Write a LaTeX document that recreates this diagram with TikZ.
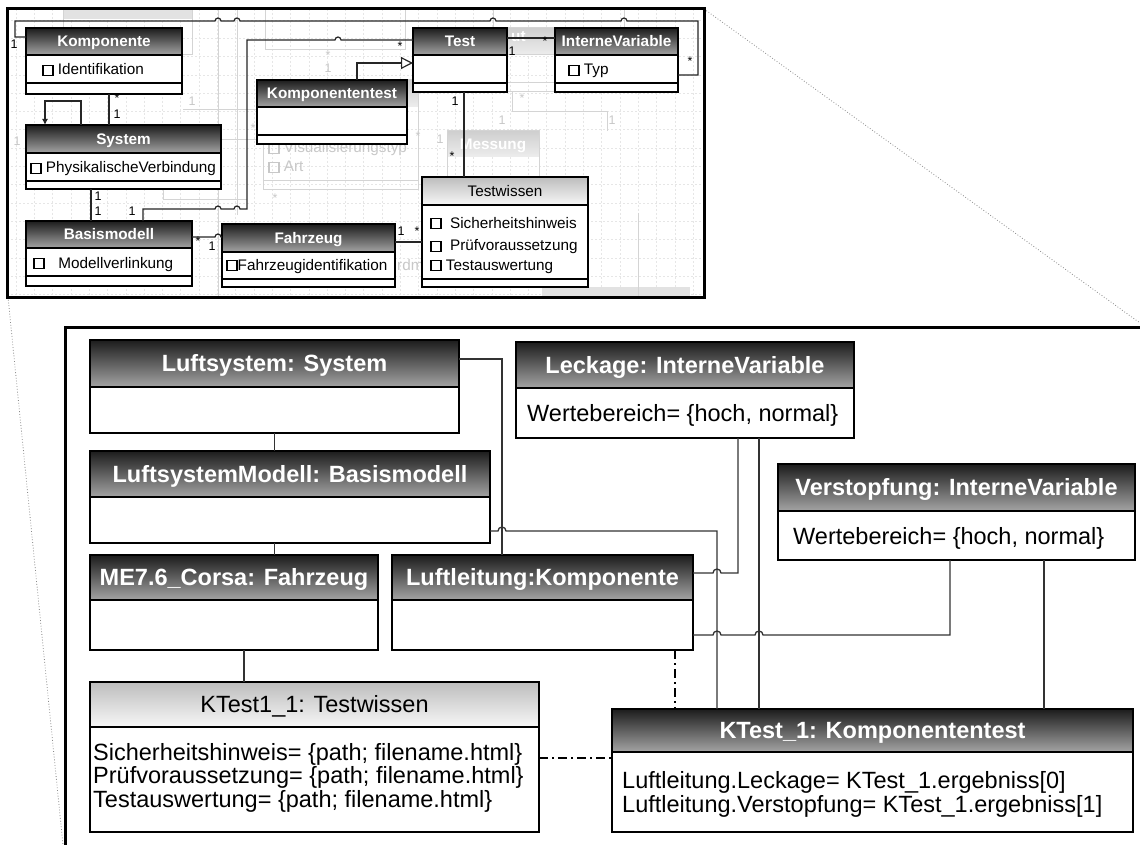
\documentclass[tikz,border=0pt]{standalone}
\usepackage{fontspec}
\setmainfont{Liberation Sans}
\usetikzlibrary{arrows.meta,calc}

\definecolor{hdtop}{HTML}{1C1C1C}
\definecolor{hdbot}{HTML}{A4A4A4}
\definecolor{lttop}{HTML}{BDBDBD}
\definecolor{ltbot}{HTML}{F7F7F7}
\definecolor{wirec}{HTML}{333333}
\definecolor{faintc}{HTML}{D4D4D4}
\definecolor{fainttxt}{HTML}{C8C8C8}
\definecolor{faintfill}{HTML}{E2E2E2}
\definecolor{fadetop}{HTML}{CFCFCF}
\definecolor{fadebot}{HTML}{EDEDED}
\definecolor{gridc}{HTML}{E6E6E6}
\definecolor{calloutc}{HTML}{8A8A8A}

% small attribute marker used in class compartments
\newcommand\attrbox{\raisebox{0.02em}{\setlength{\fboxsep}{0pt}\setlength{\fboxrule}{0.1em}\fbox{\rule{0pt}{0.55em}\rule{0.55em}{0pt}}}}

% class/object box: name, x, y, width, header height, total height, header shading, title style, title
\newcommand\umlobj[9]{%
  \node[objbody, minimum width=#4pt, minimum height=#6pt, anchor=north west] (#1) at (#2,#3) {};
  \shade[#7] (#1.north west) rectangle ([yshift=-#5pt]#1.north east);
  \draw[edge] (#1.north west) rectangle (#1.south east);
  \draw[edge] ([yshift=-#5pt]#1.north west) -- ([yshift=-#5pt]#1.north east);
  \node[#8] (#1-title) at ($(#1.north)+(0,#5/2)$) {#9};
}
% operations compartment separator
\newcommand\oprow[2]{\draw[edge] ([yshift=-#2pt]#1.north west) -- ([yshift=-#2pt]#1.north east);}

\tikzset{
  objbody/.style={rectangle, fill=white, draw=none, inner sep=0pt, outer sep=0pt},
  darkhead/.style={top color=hdtop, bottom color=hdbot},
  lighthead/.style={top color=lttop, bottom color=ltbot},
  fadehead/.style={top color=fadetop, bottom color=fadebot},
  ihead/.style={text=white, font=\fontsize{15.3}{17}\selectfont\bfseries, inner sep=0pt, anchor=base, yshift=-5.5pt},
  iheadl/.style={text=black, font=\fontsize{15.3}{17}\selectfont, inner sep=0pt, anchor=base, yshift=-5.5pt},
  iattr/.style={font=\fontsize{15.3}{17}\selectfont, inner sep=0pt, anchor=base west},
  mult/.style={font=\fontsize{12.5}{14}\selectfont, inner sep=0pt, anchor=mid},
  bhead/.style={text=white, font=\fontsize{23.5}{26}\selectfont\bfseries, inner sep=0pt, anchor=base, yshift=-8.4pt},
  bheadl/.style={text=black, font=\fontsize{23.5}{26}\selectfont, inner sep=0pt, anchor=base, yshift=-8.4pt},
  battr/.style={font=\fontsize{23.5}{26}\selectfont, inner sep=0pt, anchor=base west},
  iwire/.style={draw=black!85, line width=1.2pt},
  wire/.style={draw=wirec, line width=1.3pt},
  dashdot/.style={draw=black, line width=1.2pt, dash pattern=on 9pt off 4pt on 2pt off 4pt},
  faintline/.style={draw=faintc, line width=1pt},
  fainttext/.style={text=fainttxt, font=\fontsize{15.3}{17}\selectfont, inner sep=0pt, anchor=base west},
  faintmult/.style={text=fainttxt, font=\fontsize{12.5}{14}\selectfont, inner sep=0pt, anchor=mid},
  fadetitle/.style={text=white, font=\fontsize{15.3}{17}\selectfont\bfseries, inner sep=0pt, anchor=base},
  gridline/.style={draw=gridc, line width=0.6pt, dash pattern=on 2pt off 2pt},
  callout/.style={draw=calloutc, line width=0.8pt, dotted},
  heavyframe/.style={draw=black, line width=3pt}
}

\begin{document}
\begin{tikzpicture}[x=1pt, y=-1pt]
\useasboundingbox (0,0) rectangle (1140,845);
\clip (0,0) rectangle (1140,845);

% ---------- zoom callout lines ----------
\coordinate (insetNE) at (704,9);
\coordinate (insetSW) at (8,297);
\coordinate (panelNE) at (1140,323);
\coordinate (panelSW) at (63,845);
\draw[callout] (insetNE) -- (panelNE);
\draw[callout] (insetSW) -- (panelSW);

% ---------- class model excerpt ----------
\fill[white] (7,9) rectangle (704,297);
\begin{scope}
  \clip (7,9) rectangle (704,297);
  \foreach \i in {0,...,38} {\draw[gridline] ({16+\i*18.3},9) -- ({16+\i*18.3},297);}
  \foreach \i in {0,...,15} {\draw[gridline] (7,{20+\i*18.3}) -- (704,{20+\i*18.3});}
  % background classes
  \fill[faintfill] (63,9) rectangle (192,19);
  \draw[faintline] (63,9) rectangle (192,55);
  \draw[faintline] (265,9) rectangle (405,50);
  \shade[fadehead] (440,28) rectangle (575,55);
  \draw[faintline] (440,28) rectangle (575,92);
  \draw[faintline] (440,55) -- (575,55);
  \draw[faintline] (440,83) -- (575,83);
  \node[fadetitle, anchor=base west] (bgIO) at (511,42) {ut};
  \shade[fadehead] (263,80) rectangle (418,107);
  \draw[faintline] (263,80) rectangle (418,190);
  \draw[faintline] (263,181) -- (418,181);
  \node[fainttext] (bgVis) at (268,153) {\attrbox\ Visualisierungstyp};
  \node[fainttext] (bgArt) at (268,172) {\attrbox\ Art};
  \shade[fadehead] (447,131) rectangle (539,157);
  \draw[faintline] (447,131) rectangle (539,177);
  \node[fadetitle] (bgMess) at (493,149.5) {Messung};
  \node[fainttext] (bgRdm) at (397,270) {rdm};
  \fill[faintfill] (542,287) rectangle (690,297);
  % background associations
  \draw[faintline] (218,9) -- (218,297);
  \draw[faintline] (237,9) -- (237,215);
  \draw[faintline] (493,9) -- (493,28);
  \draw[faintline] (624,9) -- (624,28);
  \draw[faintline] (638,213) -- (638,297);
  \draw[faintline] (512,92) -- (512,112) -- (607,112) -- (607,131);
  \draw[faintline] (183,110) -- (257,110);
  \draw[faintline] (190,140) -- (263,140);
  \draw[faintline] (163,181) -- (163,200) -- (247,200);
  \node[faintmult] (bg1) at (192,103) {1};
  \node[faintmult] (bg2) at (328,57) {*};
  \node[faintmult] (bg3) at (328,70) {1};
  \node[faintmult] (bg4) at (17,143) {1};
  \node[faintmult] (bg5) at (253,130) {*};
  \node[faintmult] (bg6) at (418,138) {*};
  \node[faintmult] (bg7) at (440,141) {1};
  \node[faintmult] (bg8) at (522,100) {*};
  \node[faintmult] (bg9) at (502,122) {1};
  \node[faintmult] (bg10) at (612,122) {1};
  \node[faintmult] (bg11) at (275,200) {*};
\end{scope}

\begin{scope}[edge/.style={draw=black, line width=1.4pt}]
  \umlobj{komp}{26}{28}{156}{27}{66}{darkhead}{ihead}{Komponente}
  \oprow{komp}{55}
  \umlobj{isys}{26}{125}{195}{28}{64}{darkhead}{ihead}{System}
  \oprow{isys}{56}
  \umlobj{ibm}{26}{221}{166}{27}{65}{darkhead}{ihead}{Basismodell}
  \oprow{ibm}{55}
  \umlobj{ifz}{222}{224}{173}{28}{63}{darkhead}{ihead}{Fahrzeug}
  \oprow{ifz}{55}
  \umlobj{ikt}{257}{80}{150}{27}{64}{darkhead}{ihead}{Komponententest}
  \oprow{ikt}{55}
  \umlobj{itest}{413}{28}{94}{27}{64}{darkhead}{ihead}{Test}
  \oprow{itest}{55}
  \umlobj{iiv}{555}{28}{123}{27}{64}{darkhead}{ihead}{InterneVariable}
  \oprow{iiv}{55}
  \umlobj{itw}{422}{177}{166}{28}{110}{lighthead}{iheadl}{Testwissen}
  \oprow{itw}{102}
\end{scope}

% attributes
\node[iattr] (komp-a) at (42,75) {\attrbox\ Identifikation};
\node[iattr] (isys-a) at (30,173) {\attrbox\ PhysikalischeVerbindung};
\node[iattr] (ibm-a) at (33,268) {\attrbox\hspace{0.9em}Modellverlinkung};
\node[iattr] (ifz-a) at (226,270) {\attrbox Fahrzeugidentifikation};
\node[iattr] (iiv-a) at (568,75) {\attrbox\ Typ};
\node[iattr] (itw-a1) at (430,228) {\attrbox\hspace{0.55em}Sicherheitshinweis};
\node[iattr] (itw-a2) at (430,251) {\attrbox\hspace{0.55em}Prüfvoraussetzung};
\node[iattr] (itw-a3) at (430,270) {\attrbox\ Testauswertung};

% associations of the class model
\draw[iwire] ([yshift=-9pt]komp.north west) -- (15,37) -- (15,21)
  -- (215,21) arc[start angle=180, end angle=360, radius=3]
  -- (234,21) arc[start angle=180, end angle=360, radius=3]
  -- (490,21) arc[start angle=180, end angle=360, radius=3]
  -- (621,21) arc[start angle=180, end angle=360, radius=3]
  -- (698,21) -- (698,75) -- ([yshift=-47pt]iiv.north east);
\draw[iwire] ([xshift=83pt]komp.south west) -- ([xshift=83pt]isys.north west);
\draw[iwire, -{Latex[length=6pt, width=6pt]}] ([xshift=55pt]isys.north west) -- (81,101) -- (45,101) -- ([xshift=19pt]isys.north west);
\draw[iwire] ([xshift=65pt]isys.south west) -- ([xshift=65pt]ibm.north west);
\draw[iwire] ([xshift=117pt]ibm.north west) -- (143,209)
  -- (215,209) arc[start angle=180, end angle=360, radius=3]
  -- (234,209) arc[start angle=180, end angle=360, radius=3]
  -- (247,209) -- (247,40)
  -- (335,40) arc[start angle=180, end angle=360, radius=3]
  -- ([yshift=-12pt]itest.north west);
\draw[iwire, -{Triangle[open, length=12pt, width=12pt]}] ([xshift=100pt]ikt.north west) -- (357,63) -- ([yshift=-35pt]itest.north west);
\draw[iwire] ([yshift=-10pt]itest.north east) -- ([yshift=-10pt]iiv.north west);
\draw[iwire] ([xshift=51pt]itest.south west) -- ([xshift=42pt]itw.north west);
\draw[iwire] ([yshift=-16pt]ibm.north east) -- (215,237) arc[start angle=180, end angle=360, radius=3] -- ([yshift=-13pt]ifz.north west);
\draw[iwire] ([yshift=-18pt]ifz.north east) -- ([yshift=-65pt]itw.north west);

% multiplicities
\node[mult] (m1) at (14,46) {1};
\node[mult] (m2) at (690,63) {*};
\node[mult] (m3) at (117,100) {*};
\node[mult] (m4) at (117,116) {1};
\node[mult] (m5) at (98,198) {1};
\node[mult] (m6) at (98,213) {1};
\node[mult] (m7) at (132,213) {1};
\node[mult] (m8) at (400,48) {*};
\node[mult] (m9) at (512,53) {1};
\node[mult] (m10) at (545,43) {*};
\node[mult] (m11) at (455,103) {1};
\node[mult] (m12) at (452,158) {*};
\node[mult] (m13) at (198,243) {*};
\node[mult] (m14) at (212,248) {1};
\node[mult] (m15) at (401,233) {1};
\node[mult] (m16) at (417,233) {*};

\draw[heavyframe] (7,9) rectangle (704,297);

% ---------- object diagram ----------
\draw[heavyframe] (1142,327) -- (65,327) -- (65,847);

\begin{scope}[edge/.style={draw=black, line width=2pt}]
  \umlobj{sys}{90}{340}{369}{47}{93}{darkhead}{bhead}{Luftsystem: System}
  \umlobj{bm}{90}{451}{400}{46}{92}{darkhead}{bhead}{LuftsystemModell: Basismodell}
  \umlobj{fz}{90}{555}{288}{45}{95}{darkhead}{bhead}{ME7.6\_Corsa: Fahrzeug}
  \umlobj{leit}{392}{555}{301}{45}{95}{darkhead}{bhead}{Luftleitung:Komponente}
  \umlobj{leck}{516}{342}{338}{46}{96}{darkhead}{bhead}{Leckage: InterneVariable}
  \umlobj{verst}{778}{464}{357}{47}{96}{darkhead}{bhead}{Verstopfung: InterneVariable}
  \umlobj{tw}{90}{682}{449}{45}{150}{lighthead}{bheadl}{KTest1\_1: Testwissen}
  \umlobj{kt}{612}{709}{521}{43}{123}{darkhead}{bhead}{KTest\_1: Komponententest}
\end{scope}

\node[battr] (leck-a) at (527,421.5) {Wertebereich= \{hoch, normal\}};
\node[battr] (verst-a) at (793,544) {Wertebereich= \{hoch, normal\}};
\node[battr] (tw-a1) at (93,760) {Sicherheitshinweis= \{path; filename.html\}};
\node[battr] (tw-a2) at (93,783.5) {Prüfvoraussetzung= \{path; filename.html\}};
\node[battr] (tw-a3) at (93,807) {Testauswertung= \{path; filename.html\}};
\node[battr] (kt-a1) at (622,788.5) {Luftleitung.Leckage= KTest\_1.ergebniss[0]};
\node[battr] (kt-a2) at (622,812) {Luftleitung.Verstopfung= KTest\_1.ergebniss[1]};

% links between the objects
\coordinate (fzlink) at ([xshift=154pt]fz.south west);
\draw[wire] (sys.south) -- (sys.south |- bm.north);
\draw[wire] (sys.south |- bm.south) -- (sys.south |- fz.north);
\draw[wire] (fzlink) -- (fzlink |- tw.north);
\draw[wire] ([yshift=-19pt]sys.north east) -| ([xshift=110pt]leit.north west);
\draw[wire] ([yshift=-80pt]bm.north east)
  -- (498,531) arc[start angle=180, end angle=360, radius=4]
  -- (717,531) -- ([xshift=105pt]kt.north west);
\draw[wire] ([yshift=-18pt]leit.north east)
  -- (713,573) arc[start angle=180, end angle=360, radius=4]
  -- (738,573) -- ([xshift=222pt]leck.south west);
\draw[wire] ([yshift=-80pt]leit.north east)
  -- (713,635) arc[start angle=180, end angle=360, radius=4]
  -- (755,635) arc[start angle=180, end angle=360, radius=4]
  -- (950,635) -- ([xshift=172pt]verst.south west);
\draw[wire] ([xshift=243pt]leck.south west) -- ([xshift=147pt]kt.north west);
\draw[wire] ([xshift=266pt]verst.south west) -- ([xshift=432pt]kt.north west);
\draw[dashdot] ([xshift=283pt]leit.south west) -- ([xshift=63pt]kt.north west);
\draw[dashdot] ([yshift=-76pt]tw.north east) -- ([yshift=-49pt]kt.north west);
\end{tikzpicture}
\end{document}
